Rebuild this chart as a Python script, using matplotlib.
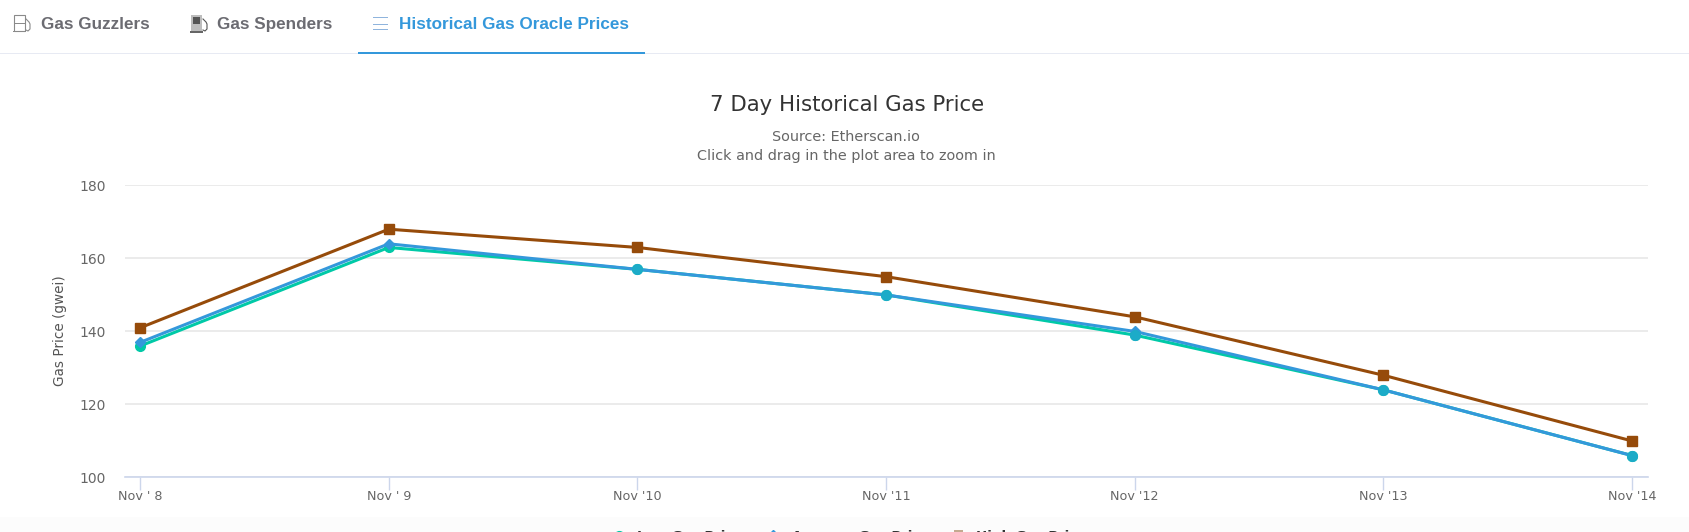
import matplotlib
matplotlib.use("Agg")
import matplotlib.pyplot as plt
from matplotlib.patches import Rectangle, Circle
from matplotlib.lines import Line2D

W, H = 1690, 532
S = 1690 / 1568  # layout below is measured on a 1568-wide view

days = ["Nov ' 8", "Nov ' 9", "Nov '10", "Nov '11", "Nov '12", "Nov '13", "Nov '14"]
low = [136, 163, 157, 150, 139, 124, 106]
avg = [137, 164, 157, 150, 140, 124, 106]
high = [141, 168, 163, 155, 144, 128, 110]
yticks = [100, 120, 140, 160, 180]
tabs = ["Gas Guzzlers", "Gas Spenders", "Historical Gas Oracle Prices"]
legend_labels = ["Low Gas Price", "Average Gas Price", "High Gas Price"]

plt.rcParams['font.family'] = ['DejaVu Sans']
fig = plt.figure(figsize=(W/100, H/100), dpi=100, facecolor='white')

def fx(x): return x * S / W
def fy(y): return 1 - y * S / H
def fw(w): return w * S / W
def fh(h): return h * S / H
def px(x): return x / W      # true-pixel helpers for the tiny icons
def py(y): return 1 - y / H

# bottom pale band
fig.add_artist(Rectangle((0, 0), 1, fh(494-480), transform=fig.transFigure, color='#fcfcfc', lw=0, zorder=0))

ax = fig.add_axes([fx(116), fy(443), fw(1529-116), fh(443-172)])
ax.set_xlim(-0.0607, 6.064)
ax.set_ylim(100, 180)
ax.patch.set_alpha(0)
x = list(range(len(days)))
ax.yaxis.grid(True, color='#e6e6e6', lw=1.1)
ax.set_axisbelow(True)
ax.plot(x, low, color='#00c9a7', lw=2.2, marker='o', ms=7, clip_on=False, zorder=3)
ax.plot(x, avg, color='#3498db', lw=2.2, marker='D', ms=5.5, clip_on=False, zorder=4)
ax.plot(x, high, color='#964B0A', lw=2.2, marker='s', ms=7, clip_on=False, zorder=5)
ax.plot(x[2:], low[2:], ls='none', marker='o', ms=7, color='#1cabc8', clip_on=False, zorder=6)
for s in ['top', 'left', 'right']:
    ax.spines[s].set_visible(False)
ax.spines['bottom'].set_color('#ccd6eb')
ax.spines['bottom'].set_linewidth(1.2)
ax.set_xticks(x, days)
ax.set_yticks(yticks)
ax.tick_params(axis='x', length=9, width=1, color='#ccd6eb', labelsize=9.2, labelcolor='#666666', pad=0.3)
ax.tick_params(axis='y', length=0, labelsize=10, labelcolor='#666666', pad=14)
fig.text(fx(56), fy(307), "Gas Price (gwei)", rotation=90, ha='center', va='center', fontsize=9.8, color='#555555')

fig.text(fx(786), fy(97), "7 Day Historical Gas Price", ha='center', va='center', fontsize=15.3, color='#333333')
fig.text(fx(785), fy(127.5), "Source: Etherscan.io", ha='center', va='center', fontsize=10.4, color='#666666')
fig.text(fx(785), fy(144.5), "Click and drag in the plot area to zoom in", ha='center', va='center', fontsize=10.4, color='#666666')

# tab bar
fig.add_artist(Rectangle((0, fy(50)), 1, 1/H, transform=fig.transFigure, color='#e7eaf3', lw=0))
fig.add_artist(Rectangle((fx(332), fy(50.3)), fw(266), 2/H, transform=fig.transFigure, color='#3498db', lw=0))
tab_font = ['Liberation Sans', 'DejaVu Sans']
fig.text(fx(38), fy(23), tabs[0], ha='left', va='center', fontsize=12.3, fontweight='bold', color='#6c6c72', family=tab_font)
fig.text(fx(201), fy(23), tabs[1], ha='left', va='center', fontsize=12.3, fontweight='bold', color='#6c6c72', family=tab_font)
fig.text(fx(370), fy(23), tabs[2], ha='left', va='center', fontsize=12.3, fontweight='bold', color='#3498db', family=tab_font)

# tab icons: menu lines
for y0 in (17, 23, 28):
    fig.add_artist(Rectangle((fx(346), fy(y0)), fw(14), 1.2/H, transform=fig.transFigure, color='#8fb4dd', lw=0))

def handle(x0, col):
    fig.add_artist(Line2D([px(x0), px(x0+3), px(x0+4), px(x0+4), px(x0+2), px(x0)],
                          [py(19), py(22), py(24), py(29), py(31), py(30)],
                          transform=fig.transFigure, color=col, lw=0.8))

# outlined pump
fig.add_artist(Rectangle((px(14), py(31)), 11/W, 16/H, transform=fig.transFigure, fc='none', ec='#8a8a8a', lw=0.8))
fig.add_artist(Rectangle((px(14), py(24)), 11/W, 0.8/H, transform=fig.transFigure, color='#8a8a8a', lw=0))
fig.add_artist(Rectangle((px(13), py(32)), 13/W, 1/H, transform=fig.transFigure, color='#8a8a8a', lw=0))
handle(26, '#8a8a8a')
# filled pump
fig.add_artist(Rectangle((px(191), py(31)), 11/W, 16/H, transform=fig.transFigure, fc='#bdbdbd', ec='none', lw=0))
fig.add_artist(Rectangle((px(193), py(24)), 7/W, 7/H, transform=fig.transFigure, fc='#555555', lw=0))
fig.add_artist(Rectangle((px(190), py(33)), 13/W, 2/H, transform=fig.transFigure, color='#666666', lw=0))
handle(203, '#555555')

# legend, cut off by the bottom edge of the frame as in the reference
leg_top = 530 / S
fig.text(fx(591), fy(leg_top), legend_labels[0], ha='left', va='top', fontsize=9.6, color='#333333', fontweight='bold')
fig.text(fx(735), fy(leg_top), legend_labels[1], ha='left', va='top', fontsize=9.6, color='#333333', fontweight='bold')
fig.text(fx(906), fy(leg_top), legend_labels[2], ha='left', va='top', fontsize=9.6, color='#333333', fontweight='bold')
fig.add_artist(Line2D([fx(574)], [py(536)], transform=fig.transFigure, marker='o', ms=7, color='#00c9a7', ls='none'))
fig.add_artist(Line2D([fx(717)], [py(535)], transform=fig.transFigure, marker='D', ms=5.5, color='#3498db', ls='none'))
fig.add_artist(Rectangle((fx(885), 0), 9/W, 2/H, transform=fig.transFigure, color='#c4a98f', lw=0))

fig.savefig("out.png", dpi=100, facecolor='white')
